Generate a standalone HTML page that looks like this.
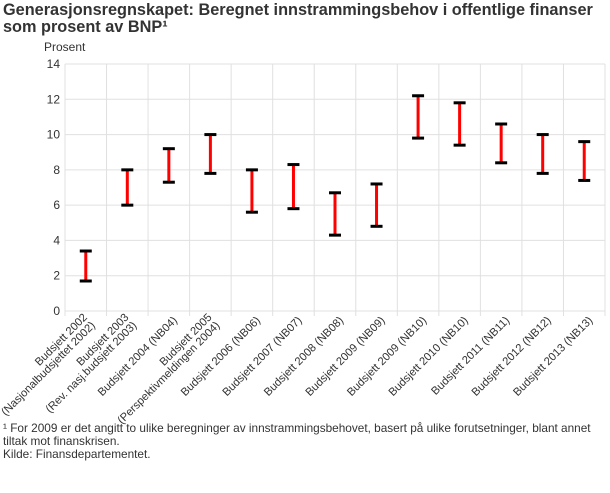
<!DOCTYPE html>
<html><head><meta charset="utf-8"><style>
body{margin:0;background:#fff;width:610px;height:488px;overflow:hidden;font-family:"Liberation Sans",sans-serif;color:#333}
</style></head><body>
<svg width="610" height="488" xmlns="http://www.w3.org/2000/svg" font-family="Liberation Sans, sans-serif">
<text x="3" y="15" font-size="16.3" font-weight="bold" fill="#333">Generasjonsregnskapet: Beregnet innstrammingsbehov i offentlige finanser</text>
<text x="3" y="32" font-size="16.3" font-weight="bold" fill="#333">som prosent av BNP¹</text>
<text x="44" y="51" font-size="12" fill="#333">Prosent</text>
<g id="grid" stroke="#e0e0e0" stroke-width="1"></g>
<g id="yl" font-size="12" fill="#333" text-anchor="end"></g>
<g id="bars"></g>
<g id="xl" font-size="11.2" fill="#333" text-anchor="end"></g>
<text x="3" y="432" font-size="11.8" fill="#333">¹ For 2009 er det angitt to ulike beregninger av innstrammingsbehovet, basert på ulike forutsetninger, blant annet</text>
<text x="3" y="445" font-size="11.8" fill="#333">tiltak mot finanskrisen.</text>
<text x="3" y="458" font-size="11.8" fill="#333">Kilde: Finansdepartementet.</text>
</svg>
<script>
var ns="http://www.w3.org/2000/svg";
function el(p,t,a,txt){var e=document.createElementNS(ns,t);for(var k in a)e.setAttribute(k,a[k]);if(txt)e.textContent=txt;document.getElementById(p).appendChild(e);return e;}
var L=65,R=605,T=64,B=311,n=13,w=(R-L)/n,u=(B-T)/14;
for(var v=0;v<=14;v+=2){var y=B-v*u;el("grid","line",{x1:L,x2:R,y1:y,y2:y});el("yl","text",{x:60,y:y+4},""+v);}
for(var i=0;i<=n;i++){var x=L+i*w;el("grid","line",{x1:x,x2:x,y1:T,y2:B+5});}
var d=[[1.7,3.4],[6,8],[7.3,9.2],[7.8,10],[5.6,8],[5.8,8.3],[4.3,6.7],[4.8,7.2],[9.8,12.2],[9.4,11.8],[8.4,10.6],[7.8,10],[7.4,9.6]];
var lab=[["Budsjett 2002","(Nasjonalbudsjettet 2002)"],["Budsjett 2003","(Rev. nasj.budsjett 2003)"],["Budsjett 2004 (NB04)"],["Budsjett 2005","(Perspektivmeldingen 2004)"],["Budsjett 2006 (NB06)"],["Budsjett 2007 (NB07)"],["Budsjett 2008 (NB08)"],["Budsjett 2009 (NB09)"],["Budsjett 2009 (NB10)"],["Budsjett 2010 (NB10)"],["Budsjett 2011 (NB11)"],["Budsjett 2012 (NB12)"],["Budsjett 2013 (NB13)"]];
d.forEach(function(p,i){var cx=L+(i+0.5)*w,y1=B-p[0]*u,y2=B-p[1]*u;
el("bars","line",{x1:cx,x2:cx,y1:y1,y2:y2,stroke:"#f00","stroke-width":3});
el("bars","line",{x1:cx-6,x2:cx+6,y1:y1,y2:y1,stroke:"#000","stroke-width":3});
el("bars","line",{x1:cx-6,x2:cx+6,y1:y2,y2:y2,stroke:"#000","stroke-width":3});
var l=lab[i];
if(l.length==1){el("xl","text",{transform:"translate("+(cx+9)+",321) rotate(-45)"},l[0]);}
else{el("xl","text",{transform:"translate("+(cx+2)+",318) rotate(-45)"},l[0]);el("xl","text",{transform:"translate("+(cx+10)+",326) rotate(-45)"},l[1]);}
});
</script>
</body></html>
